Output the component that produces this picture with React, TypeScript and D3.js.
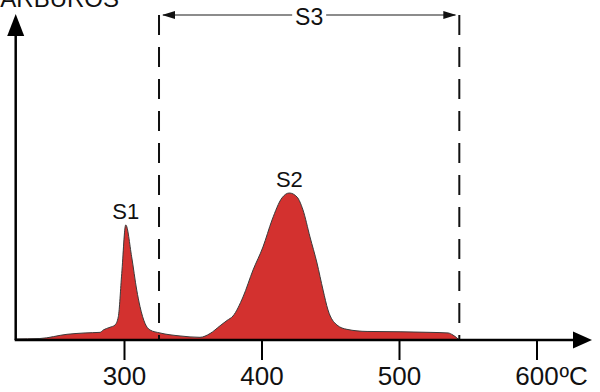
import React from "react";
import * as d3 from "d3";

// Pyrolysis trace: temperature (ºC) vs. signal (arbitrary units)
const temps = [
  220.4, 238.5, 258.2, 271.3, 282.2, 284.6, 289.5, 293.1, 295.5, 298,
  300.9, 305.2, 308.9, 311.3, 314.9, 318.5, 325.8, 340.4, 354.9,
  362.2, 369.5, 374.5, 378.9, 386.2, 393.5, 400.7, 407.3, 414.5, 419.9, 425.5, 429.8,
  434.9, 440, 444.4, 448, 454.5, 461.8, 476.4, 500.4, 522.2, 535.3, 538.9, 543.5,
];
const signal = [
  0.7, 1, 3.8, 4.7, 5.1, 6.7, 8.5, 10, 15.5, 44.4,
  76.7, 55.5, 33.3, 22.2, 11.1, 6.7, 4.7, 2.7, 1.8,
  4.3, 9.5, 13, 16, 28.7, 46.7, 62, 80, 94.7, 98, 95.3, 86.7,
  68.7, 51.3, 33.3, 20, 10, 7.1, 5.7, 5.5, 5.1, 4.7, 3.3, 0,
];
const tickValues = [300, 400, 500, 600];
const tickLabels = ["300", "400", "500", "600"];
const unitLabel = "ºC";
const yTitle = "HIDROCARBUROS";
const peakLabels = ["S1", "S2"];
const peakTemps = [300.9, 419.9];
const peakValues = [76.7, 98];
const s3Label = "S3";
const s3Range = [325.1, 543.5];

const W = 600;
const H = 392;
const FONT = "'Liberation Sans', Arial, Helvetica, sans-serif";

export default function App() {
  const x = d3.scaleLinear().domain([300, 600]).range([124.5, 537]);
  const y = d3.scaleLinear().domain([0, 100]).range([340, 190]);
  const axisX0 = 15.7;
  const axisY0 = 340;

  const pts = temps.map((t, i) => [t, signal[i]] as [number, number]);
  const area = d3
    .area<[number, number]>()
    .x((d) => x(d[0]))
    .y0(y(0))
    .y1((d) => y(d[1]))
    .curve(d3.curveMonotoneX);
  const line = d3
    .line<[number, number]>()
    .x((d) => x(d[0]))
    .y((d) => y(d[1]))
    .curve(d3.curveMonotoneX);

  const s3x0 = x(s3Range[0]);
  const s3x1 = x(s3Range[1]);
  const s3y = 15;
  const s3mid = (s3x0 + s3x1) / 2;

  return (
    <svg
      width={W}
      height={H}
      style={{ position: "absolute", left: 0, top: 0, background: "#fff" }}
      fontFamily={FONT}
    >
      {/* signal area */}
      <path d={area(pts) ?? ""} fill="#d3312f" />
      <path d={line(pts) ?? ""} fill="none" stroke="#3a3a3a" strokeWidth={1} />

      {/* S3 interval bounds */}
      {s3Range.map((t, i) => (
        <line
          key={i}
          x1={x(t)}
          x2={x(t)}
          y1={15}
          y2={axisY0}
          stroke="#111"
          strokeWidth={2}
          strokeDasharray="20 12"
        />
      ))}
      {/* S3 double arrow */}
      <line x1={s3x0 + 4} x2={s3mid - 17} y1={s3y} y2={s3y} stroke="#666" strokeWidth={1.5} />
      <line x1={s3mid + 17} x2={s3x1 - 4} y1={s3y} y2={s3y} stroke="#666" strokeWidth={1.5} />
      <path
        d={`M${s3x0 + 3},${s3y} L${s3x0 + 16},${s3y - 4} L${s3x0 + 16},${s3y + 4} Z`}
        fill="#111"
      />
      <path
        d={`M${s3x1 - 3},${s3y} L${s3x1 - 16},${s3y - 4} L${s3x1 - 16},${s3y + 4} Z`}
        fill="#111"
      />
      <text x={s3mid} y={25} textAnchor="middle" fontSize={23} fill="#111">
        {s3Label}
      </text>

      {/* peak labels */}
      {peakLabels.map((l, i) => (
        <text
          key={l}
          x={x(peakTemps[i])}
          y={y(peakValues[i]) - 6}
          textAnchor="middle"
          fontSize={22}
          fill="#111"
        >
          {l}
        </text>
      ))}

      {/* y axis */}
      <line x1={axisX0} x2={axisX0} y1={axisY0} y2={34} stroke="#000" strokeWidth={2.5} />
      <path
        d={`M${axisX0},14 L${axisX0 - 8.5},36 L${axisX0 + 8.5},36 Z`}
        fill="#000"
      />
      <text x={119} y={7} textAnchor="end" fontSize={24} fill="#111">
        {yTitle}
      </text>

      {/* x axis */}
      <line x1={axisX0 - 1} x2={576} y1={axisY0} y2={axisY0} stroke="#000" strokeWidth={2.5} />
      <path d={`M592,${axisY0} L573,${axisY0 - 8.5} L573,${axisY0 + 8.5} Z`} fill="#000" />
      {tickValues.map((v, i) => (
        <g key={v}>
          <line x1={x(v)} x2={x(v)} y1={axisY0} y2={360} stroke="#000" strokeWidth={2} />
          <text x={x(v)} y={385} textAnchor="middle" fontSize={26} fill="#111">
            {tickLabels[i]}
          </text>
        </g>
      ))}
      <text x={x(600) + 22.5} y={385} textAnchor="start" fontSize={26} fill="#111">
        {unitLabel}
      </text>
    </svg>
  );
}
